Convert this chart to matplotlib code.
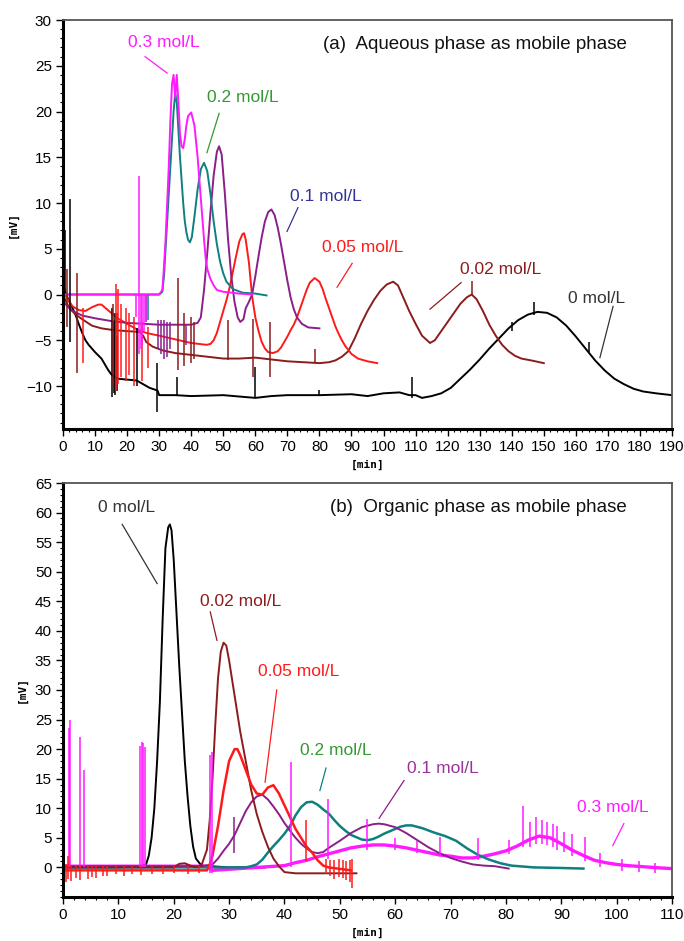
import matplotlib
matplotlib.use('Agg')
import matplotlib.pyplot as plt
from matplotlib.ticker import MultipleLocator

plt.rcParams['font.family'] = ['Liberation Sans', 'DejaVu Sans']

# ---------------- (a) aqueous phase: chromatograms ----------------
a_x_0 = [0, 1, 2, 3, 4, 5, 6, 7, 8, 10, 12, 14, 15, 17, 20, 23, 25, 27, 29.5, 30, 35, 40, 50, 60, 65, 70,
         80, 90, 95, 100, 105, 108, 110, 112, 115, 118, 121, 124, 127, 130, 133, 136, 139, 142, 145, 148,
         151, 154, 157, 160, 163, 166, 169, 172, 175, 178, 181, 185, 190]
a_y_0 = [1, 0, -0.8, -1.5, -2.3, -3.3, -4.2, -5, -5.5, -6.3, -7, -8.2, -8.7, -9.2, -9.3, -9.4, -9.8, -10.2,
         -10.5, -11, -11, -11.1, -11, -11.3, -11.1, -11, -11, -10.9, -11.1, -10.8, -10.7, -11, -11, -11.3,
         -11.1, -10.8, -10.2, -9.2, -8.2, -7.1, -5.9, -4.8, -3.7, -2.8, -2.2, -1.9, -2, -2.5, -3.4, -4.6,
         -5.9, -7.2, -8.3, -9.2, -9.8, -10.3, -10.6, -10.8, -11]

a_x_002 = [0, 1, 2, 4, 6, 9, 12, 16, 20, 24, 25, 26, 28, 31, 35, 40, 45, 50, 55, 60, 65, 70, 75, 80, 83,
           85, 87, 89, 91, 93, 95, 97, 99, 101, 103, 104.5, 106, 108, 110, 112, 114.5, 116, 118, 120, 122,
           124, 126, 127.5, 129, 131, 133, 135, 137, 139, 141, 143, 146, 150]
a_y_002 = [0, -0.8, -1.5, -2.2, -2.7, -3.4, -3.7, -3.9, -4, -4.1, -4.5, -5.2, -5.7, -6.1, -6.4, -6.6,
           -6.8, -7, -7, -6.9, -7.1, -7.3, -7.4, -7.5, -7.4, -7.2, -6.8, -6.2, -4.8, -3.2, -1.8, -0.6,
           0.4, 1.1, 1.4, 1, -0.2, -1.8, -3.2, -4.5, -5.3, -5, -4, -3, -2, -1, -0.3, 0, -0.5, -1.8, -3.3,
           -4.5, -5.5, -6.2, -6.7, -7, -7.2, -7.5]

a_x_005 = [0, 1, 2, 3, 5, 7, 9, 11, 12, 13, 15, 17, 20, 23, 26, 30, 35, 40, 44.8, 46, 47, 48, 49, 50, 51,
           52, 53, 54, 55, 56, 56.5, 57, 58, 59, 60, 61, 62, 63, 64, 65.5, 67, 68, 69, 70, 71, 72, 73, 74,
           75, 76, 77, 78.5, 80, 81, 82, 83, 84, 85, 86, 87, 88, 90, 92, 95, 98]
a_y_005 = [0.3, -0.2, -0.8, -1.3, -1.7, -1.8, -1.4, -1.1, -1.1, -1.4, -2, -2.6, -3.2, -3.8, -4.2, -4.5,
           -4.9, -5.3, -5.5, -5.4, -5, -4.2, -3, -1.8, -0.6, 0.8, 2.5, 4.2, 5.8, 6.6, 6.7, 6, 3.5, -0.2,
           -2.5, -4, -5.2, -5.9, -6.3, -6.4, -6.2, -5.8, -5.2, -4.6, -3.9, -3.3, -2.5, -1.5, -0.5, 0.5,
           1.3, 1.8, 1.4, 0.6, -0.5, -1.5, -2.5, -3.5, -4.3, -5, -5.6, -6.5, -7, -7.3, -7.5]

a_x_01 = [0, 3, 6, 10, 15, 20, 25, 30, 40, 42, 43, 44, 45, 46, 47, 48, 48.7, 49.5, 50.5, 51.5, 52.5,
          53.5, 54.5, 55.3, 56.3, 57, 58, 59, 60, 61, 62, 63, 64, 65, 66, 67, 68, 69, 70, 71, 72, 73,
          74.5, 76.5, 80]
a_y_01 = [-0.8, -1.8, -2.3, -2.6, -2.9, -3.1, -3.2, -3.3, -3.3, -3.1, -2.5, 0.5, 4.5, 9, 13, 15.6, 16.2,
          15.3, 11, 6, 2, -0.8, -2.5, -3, -2.7, -1.5, -0.8, 0, 2, 4.2, 6.3, 8, 9, 9.3, 8.7, 7.3, 5.5,
          3.5, 1.5, -0.3, -1.6, -2.5, -3.2, -3.6, -3.7]

a_x_02 = [0, 30, 31, 31.5, 32, 32.5, 33, 33.5, 34, 34.5, 35, 35.5, 36, 36.5, 37, 37.5, 38, 38.5, 39,
          39.6, 40.2, 41, 42, 43, 44, 45, 46, 47, 48, 49, 50, 51, 53, 56, 60, 63.5]
a_y_02 = [0, 0, 0.3, 2, 5, 8, 11, 14, 17, 20, 22, 21, 18, 15, 12.5, 10, 8, 6.8, 6, 5.7, 6.3, 8.5, 11.5,
          13.7, 14.4, 13.5, 11, 8, 5.5, 3.6, 2.3, 1.4, 0.6, 0.2, 0.1, -0.1]

a_x_03 = [0, 30, 31, 31.5, 32, 32.5, 33, 33.5, 34, 34.5, 35, 35.5, 36, 36.5, 37, 37.5, 38, 38.5, 39,
          40, 41, 42, 43, 44, 44.5, 45, 46, 47, 48, 50, 55, 59]
a_y_03 = [0, 0, 0.5, 3, 6, 10, 14, 19, 23, 24, 21.5, 24, 21, 17.5, 16.2, 16, 17, 18.5, 19.5, 19.9,
          18.5, 15, 10.5, 6, 4, 2.8, 1.7, 1, 0.5, 0.3, 0.1, 0]

# spikes (x, low, high) seen on each trace in (a)
a_spk_0 = [(0.5, 0.5, 7), (2.3, -5.2, 10.4), (15.3, -11.2, -1.5), (15.8, -10.8, -3), (16.2, -11, -2),
           (17, -10.5, -4.5), (23, -10, -3.7), (29.2, -12.8, -7.5), (35.5, -11, -9), (59.9, -11.3, -7.9),
           (80, -11, -10.4), (109, -11.3, -9), (140, -4, -3), (147, -2.2, -0.8), (164, -6.3, -5.2)]
a_spk_002 = [(1.1, -3.5, 2.8), (4.3, -8.6, 2.3), (15.7, -10, -1), (16.8, -9, -2), (36, -8.3, 1.8),
             (37.8, -7.8, -2), (39.8, -7.5, -2.5), (40.9, -7, -3), (51.5, -7.2, -2.8), (59.2, -9, -2.7),
             (64.6, -9, -3), (78.5, -7.4, -6), (127.5, 0, 1.5)]
a_spk_005 = [(0.3, -3.5, 2.8), (6.2, -7.5, -1.5), (16.5, -10.5, 1.2), (17.3, -9.8, 0.6), (18, -9, -1),
             (19.5, -9.5, -1.5), (20.5, -8.8, -2), (22, -10, -2.5), (24.5, -9.5, -3), (26.5, -8, -3.5)]
a_spk_01 = [(29.5, -6, -2.8), (30.5, -6.5, -2.8), (31.5, -7, -2.8), (32.5, -6.8, -3), (33.5, -6, -3),
            (38.5, -5.5, -3.2)]
a_spk_02 = [(25.8, -3, 0), (26.5, -2.8, 0)]
a_spk_03 = [(22.8, -2.5, 0), (23.7, -6.5, 12.9), (24.2, -6, 0), (24.8, -5.5, 0), (25.3, -4, 0), (26, -3, 0)]

# ---------------- (b) organic phase ----------------
b_x_0 = [0, 10, 14, 15, 15.5, 16, 16.5, 17, 17.5, 18, 18.5, 19, 19.3, 19.6, 20, 20.5, 21, 21.5, 22,
         22.5, 23, 23.5, 24, 25, 30, 36.5]
b_y_0 = [0, 0, 0.2, 0.5, 2, 5, 10, 18, 28, 42, 54, 57.5, 58, 57, 52, 43, 34, 26, 18, 12, 7, 3.5, 1.5,
         0.3, 0, 0]

b_x_002 = [0, 20, 21, 22, 23, 24, 25, 26, 26.5, 27, 27.5, 28, 28.5, 29, 29.5, 30, 31, 32, 33, 34, 35,
           36, 37, 38, 39, 40, 42, 53]
b_y_002 = [0, 0, 0.6, 0.7, 0.3, 0, 0.3, 3, 8, 15, 24, 32, 36.5, 38, 37.5, 35, 29, 23, 18, 13, 9, 6,
           3.5, 1.5, 0.2, -0.8, -1, -1]

b_x_005 = [0, 26, 26.5, 27, 28, 29, 30, 31, 31.5, 32, 33, 34, 35, 36, 37, 38, 39, 40, 41, 42, 43, 44,
           45, 46, 47, 48, 52]
b_y_005 = [-0.5, -0.5, 0.5, 2, 7, 13, 18, 20, 20, 19, 16.5, 14, 12.5, 12.3, 13.5, 13.9, 12.5, 10.5,
           8.5, 6.5, 5, 3.5, 2.5, 1.2, 0.3, 0, -0.5]

b_x_01 = [0, 25, 27, 28, 29, 30, 31, 32, 33, 34, 35, 36, 37, 38, 39, 40, 41, 42, 43, 44, 45, 46, 47,
          48, 50, 52, 54, 56, 57, 58, 60, 62, 64, 66, 68, 70, 72, 74, 76, 78, 80.5]
b_y_01 = [0.2, 0.2, 0.5, 1.5, 2.8, 4, 5.5, 7.5, 9.5, 11, 12, 12.3, 11.5, 10.3, 9, 7.5, 6.2, 5, 4, 3.2,
          2.6, 2.4, 2.6, 3.3, 4.5, 5.8, 6.8, 7.3, 7.4, 7.3, 6.8, 5.8, 4.6, 3.4, 2.4, 1.6, 1, 0.5, 0.3,
          0.2, -0.2]

b_x_02 = [0, 33, 34, 35, 36, 37, 38, 39, 40, 41, 42, 43, 44, 45, 46, 47, 48, 49, 50, 51, 52, 53, 54,
          55, 56, 57, 58, 59, 60, 61, 62, 63, 65, 67, 69, 71, 73, 75, 77, 79, 81, 85, 90, 94]
b_y_02 = [0, 0, 0.2, 0.5, 1.3, 2.5, 3.6, 4.6, 5.7, 7, 8.8, 10.2, 11, 11.1, 10.6, 9.8, 9.1, 8, 7, 6.2,
          5.5, 5.1, 4.7, 4.6, 4.8, 5.2, 5.7, 6.1, 6.5, 6.9, 7.1, 7.1, 6.6, 5.9, 5.3, 4.5, 3.2, 2.1, 1.3,
          0.7, 0.3, 0, -0.1, -0.2]

b_x_03 = [0, 26, 27, 40, 42, 44, 46, 48, 50, 52, 54, 56, 58, 60, 62, 64, 66, 68, 70, 72, 74, 76, 78,
          80, 82, 84, 86, 88, 90, 92, 94, 96, 98, 100, 102, 105, 108, 110]
b_y_03 = [0.2, 0.2, -0.5, 0.3, 0.8, 1.2, 1.8, 2.3, 2.8, 3.3, 3.6, 3.8, 3.8, 3.6, 3.3, 2.9, 2.5, 2.1,
          1.9, 1.6, 1.6, 1.9, 2.3, 2.8, 3.6, 4.6, 5.3, 5.0, 4.0, 2.9, 2.0, 1.2, 0.8, 0.5, 0.3, 0.1,
          -0.1, -0.2]

b_spk_005 = [(0.5, -2.5, 0.5), (0.9, -2, 2), (1.5, -2.3, 0.3), (2.3, -1.8, 0.4), (3, -2.2, 0.2),
             (4.5, -2, 0.2), (5.2, -1.6, 0.3), (6, -1.8, 0.3), (7.2, -1.4, 0.2), (8, -1.5, 0.2),
             (9.5, -1.2, 0.3), (11, -1.4, 0.2), (12.5, -1.1, 0.3), (14, -1.3, 0.2), (16, -1.2, 0.2),
             (18, -1.1, 0.3), (20, -1, 0.2), (22.5, -1.2, 0.3), (24.5, -1, 0.2), (43.9, 1, 8),
             (47.5, -1.2, 1.5), (48.3, -1.5, 1.2), (49, -2, 1.2), (49.8, -1.6, 1.4), (50.5, -1.8, 1.3),
             (51.2, -2.2, 1), (51.8, -2.5, 1.2), (52.2, -3.5, 1.5)]
b_spk_01 = [(30.8, 2.5, 8.5)]
b_spk_03 = [(1.0, 0, 23.5), (1.3, 0, 25), (3.1, 0, 22), (3.8, 0, 16.4), (13.9, 0, 20.5), (14.2, 0, 21.2),
            (14.5, 0, 21), (14.8, 0, 20.3), (26.5, -1, 19), (26.9, -1, 19.5), (41.1, 0, 17.8),
            (47.9, 1.5, 11.6), (54.9, 3, 8.2), (60, 3, 5), (64, 2.5, 4.5), (68.1, 2, 5.1), (75, 1.2, 4.9),
            (80.5, 2.2, 4.6), (83, 3.5, 10.3), (84.4, 3.5, 7.7), (85.5, 4, 8.5), (86.5, 4, 8), (87.5, 3.8, 7.6),
            (88.5, 3.4, 7.4), (89.2, 3, 7), (90.5, 2.6, 6), (92, 2, 5.6), (94.3, 1, 5.1), (97, 0, 2.5),
            (101, -0.6, 1.4), (104, -0.8, 1), (107, -0.9, 0.8)]

C_BLACK = '#000000'
C_DRED = '#8b1c1c'
C_RED = '#ff1a1a'
C_PURPLE = '#8a1f8a'
C_TEAL = '#0e8080'
C_MAG = '#ff1aff'

fig = plt.figure(figsize=(6.84, 9.41), dpi=100)
ax1 = fig.add_axes([0.0921, 0.5441, 0.8904, 0.4346])
ax2 = fig.add_axes([0.0921, 0.0468, 0.8904, 0.4399])


def style(ax):
    ax.spines['left'].set_linewidth(2.2)
    ax.spines['bottom'].set_linewidth(2.2)
    for s in ('top', 'right'):
        ax.spines[s].set_linewidth(1.3)
        ax.spines[s].set_color('#555555')
    ax.tick_params(which='major', direction='out', length=5, width=1, labelsize=11, pad=3)
    ax.tick_params(which='minor', direction='out', length=2.5, width=0.8)
    ax.set_xlabel('[min]', family='DejaVu Sans Mono', fontsize=8, fontweight='bold', labelpad=4)
    ax.set_ylabel('[mV]', family='DejaVu Sans Mono', fontsize=8, fontweight='bold', labelpad=6)


def spikes(ax, spk, color):
    ax.vlines([s[0] for s in spk], [s[1] for s in spk], [s[2] for s in spk], color=color, lw=1.1)


def label(ax, text, xy, start, end, tcolor, lcolor):
    ax.text(xy[0], xy[1], text, color=tcolor, fontsize=12.5, ha='left', va='center')
    ax.plot([start[0], end[0]], [start[1], end[1]], color=lcolor, lw=0.9)


# ---- panel (a)
lw = 1.4
ax1.plot(a_x_0, a_y_0, color=C_BLACK, lw=lw)
ax1.plot(a_x_002, a_y_002, color=C_DRED, lw=lw)
ax1.plot(a_x_005, a_y_005, color=C_RED, lw=lw)
ax1.plot(a_x_01, a_y_01, color=C_PURPLE, lw=lw)
ax1.plot(a_x_02, a_y_02, color=C_TEAL, lw=lw)
ax1.plot(a_x_03, a_y_03, color=C_MAG, lw=lw)
spikes(ax1, a_spk_0, C_BLACK)
spikes(ax1, a_spk_002, C_DRED)
spikes(ax1, a_spk_005, C_RED)
spikes(ax1, a_spk_01, C_PURPLE)
spikes(ax1, a_spk_02, C_TEAL)
spikes(ax1, a_spk_03, C_MAG)

ax1.set_xlim(0, 190)
ax1.set_ylim(-14.7, 30)
ax1.xaxis.set_major_locator(MultipleLocator(10))
ax1.xaxis.set_minor_locator(MultipleLocator(2))
ax1.yaxis.set_major_locator(MultipleLocator(5))
ax1.yaxis.set_minor_locator(MultipleLocator(1))
ax1.set_yticks([-10, -5, 0, 5, 10, 15, 20, 25, 30])
style(ax1)

label(ax1, '0.3 mol/L', (20.3, 27.6), (25.6, 26), (32.5, 24.2), C_MAG, C_MAG)
label(ax1, '0.2 mol/L', (44.9, 21.5), (48.7, 19.8), (44.9, 15.5), '#339933', '#339933')
label(ax1, '0.1 mol/L', (70.8, 10.7), (73.3, 9.5), (69.9, 6.9), '#333399', '#333399')
label(ax1, '0.05 mol/L', (80.8, 5.1), (90.2, 3.4), (85.5, 0.8), C_RED, C_RED)
label(ax1, '0.02 mol/L', (123.9, 2.7), (124.2, 1.3), (114.5, -1.6), C_DRED, C_DRED)
label(ax1, '0 mol/L', (157.6, -0.4), (171.6, -1.3), (167.5, -6.9), '#333333', '#333333')
ax1.text(0.427, 0.939, '(a)  Aqueous phase as mobile phase', transform=ax1.transAxes,
         fontsize=13.5, ha='left', va='center', color='#111111')

# ---- panel (b)  (noisy traces drawn a bit heavier)
ax2.plot(b_x_0, b_y_0, color=C_BLACK, lw=lw)
ax2.plot(b_x_03, b_y_03, color=C_MAG, lw=2.4)
ax2.plot(b_x_02, b_y_02, color=C_TEAL, lw=1.8)
ax2.plot(b_x_01, b_y_01, color=C_PURPLE, lw=lw)
ax2.plot(b_x_002, b_y_002, color=C_DRED, lw=lw)
ax2.plot(b_x_005, b_y_005, color=C_RED, lw=1.8)
spikes(ax2, b_spk_03, C_MAG)
spikes(ax2, b_spk_01, C_PURPLE)
spikes(ax2, b_spk_005, C_RED)

ax2.set_xlim(0, 110)
ax2.set_ylim(-5, 65)
ax2.xaxis.set_major_locator(MultipleLocator(10))
ax2.xaxis.set_minor_locator(MultipleLocator(2))
ax2.yaxis.set_minor_locator(MultipleLocator(1))
ax2.set_yticks(list(range(0, 66, 5)))
style(ax2)

label(ax2, '0 mol/L', (6.3, 60.9), (10.7, 58), (17, 48), '#333333', '#333333')
label(ax2, '0.02 mol/L', (24.7, 44.9), (26.6, 43.2), (27.8, 38.4), C_DRED, C_DRED)
label(ax2, '0.05 mol/L', (35.2, 33.2), (38.6, 30), (36.5, 14.4), C_RED, C_RED)
label(ax2, '0.2 mol/L', (42.8, 19.8), (47.5, 16.8), (46.4, 13), '#339933', C_TEAL)
label(ax2, '0.1 mol/L', (62.1, 16.8), (61.6, 14.7), (57.1, 8.3), '#993399', C_PURPLE)
label(ax2, '0.3 mol/L', (92.8, 10.2), (101.3, 7.4), (99.3, 3.7), C_MAG, C_MAG)
ax2.text(0.438, 0.942, '(b)  Organic phase as mobile phase', transform=ax2.transAxes,
         fontsize=13.5, ha='left', va='center', color='#111111')

fig.savefig('out.png', dpi=100)
